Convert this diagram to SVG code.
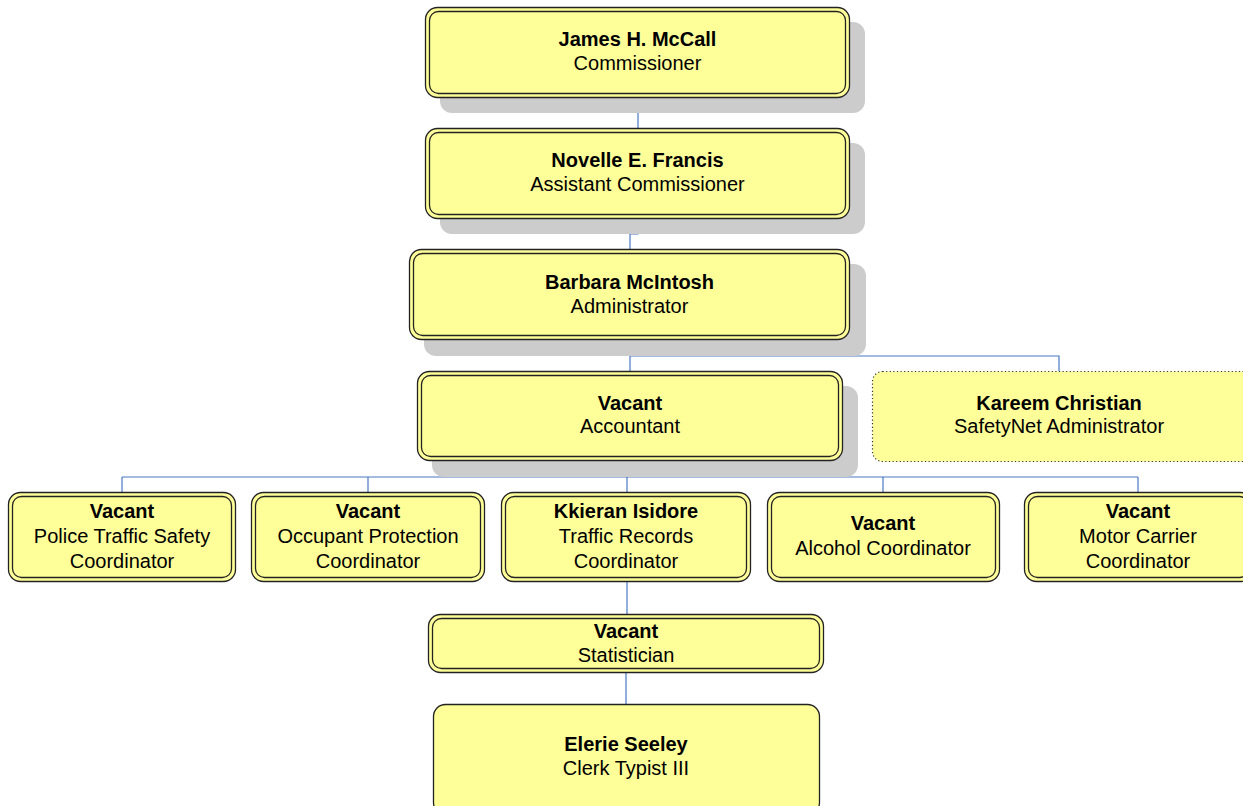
<svg xmlns="http://www.w3.org/2000/svg" width="1243" height="806" viewBox="0 0 1243 806">
<style>
.sh{fill:#cccccc}
.o{fill:#ffff99;stroke:#222;stroke-width:1.3}
.i{fill:none;stroke:#222;stroke-width:1.3}
.d{fill:#ffff99;stroke:#333;stroke-width:1.2;stroke-dasharray:1.2 2.4}
.s{fill:#ffff99;stroke:#222;stroke-width:1.3}
text{font-family:"Liberation Sans",Arial,sans-serif;font-size:20px;fill:#000;text-anchor:middle}
.b{font-weight:bold}
.c{fill:none;stroke:#4a78c4;stroke-width:1.2}
</style>
<g id="connectors">
<path class="c" d="M638 98V128M638 219V234H630V249M630 340V371M630 356H1059V371M630 461V477M122 477H1138M122 477V492M368 477V492M627 477V492M883 477V492M1138 477V492M627 582V614M626 673V704"/>
</g>
<g id="n1">
<rect class="sh" x="440" y="22" width="425" height="91" rx="12"/>
<rect class="o" x="425.5" y="7.5" width="424" height="90" rx="12"/>
<rect class="i" x="429.5" y="11.5" width="416" height="82" rx="9"/>
<text class="b" x="637.5" y="46">James H. McCall</text>
<text x="637.5" y="70">Commissioner</text>
</g>
<g id="n2">
<rect class="sh" x="440" y="143" width="425" height="91" rx="12"/>
<rect class="o" x="425.5" y="128.5" width="424" height="90" rx="12"/>
<rect class="i" x="429.5" y="132.5" width="416" height="82" rx="9"/>
<text class="b" x="637.5" y="167">Novelle E. Francis</text>
<text x="637.5" y="191">Assistant Commissioner</text>
</g>
<g id="n3">
<rect class="sh" x="424" y="264" width="442" height="92" rx="12"/>
<rect class="o" x="409.5" y="249.5" width="440" height="90" rx="12"/>
<rect class="i" x="413.5" y="253.5" width="432" height="82" rx="9"/>
<text class="b" x="629.5" y="289">Barbara McIntosh</text>
<text x="629.5" y="313">Administrator</text>
</g>
<g id="n4">
<rect class="sh" x="432" y="386" width="426" height="91" rx="12"/>
<rect class="o" x="417.5" y="371.5" width="425" height="89" rx="12"/>
<rect class="i" x="421.5" y="375.5" width="417" height="81" rx="9"/>
<text class="b" x="630" y="410">Vacant</text>
<text x="630" y="433">Accountant</text>
</g>
<g id="n5">
<rect class="d" x="872.5" y="371.5" width="380" height="90" rx="10"/>
<text class="b" x="1059" y="410">Kareem Christian</text>
<text x="1059" y="433">SafetyNet Administrator</text>
</g>
<g id="n6">
<rect class="o" x="8.5" y="492.5" width="227" height="89" rx="12"/>
<rect class="i" x="12.5" y="496.5" width="219" height="81" rx="9"/>
<text class="b" x="122" y="518">Vacant</text>
<text x="122" y="543">Police Traffic Safety</text>
<text x="122" y="568">Coordinator</text>
</g>
<g id="n7">
<rect class="o" x="251.5" y="492.5" width="233" height="89" rx="12"/>
<rect class="i" x="255.5" y="496.5" width="225" height="81" rx="9"/>
<text class="b" x="368" y="518">Vacant</text>
<text x="368" y="543">Occupant Protection</text>
<text x="368" y="568">Coordinator</text>
</g>
<g id="n8">
<rect class="o" x="501.5" y="492.5" width="249" height="89" rx="12"/>
<rect class="i" x="505.5" y="496.5" width="241" height="81" rx="9"/>
<text class="b" x="626" y="518">Kkieran Isidore</text>
<text x="626" y="543">Traffic Records</text>
<text x="626" y="568">Coordinator</text>
</g>
<g id="n9">
<rect class="o" x="767.5" y="492.5" width="232" height="89" rx="12"/>
<rect class="i" x="771.5" y="496.5" width="224" height="81" rx="9"/>
<text class="b" x="883" y="530">Vacant</text>
<text x="883" y="555">Alcohol Coordinator</text>
</g>
<g id="n10">
<rect class="o" x="1024.5" y="492.5" width="228" height="89" rx="12"/>
<rect class="i" x="1028.5" y="496.5" width="220" height="81" rx="9"/>
<text class="b" x="1138" y="518">Vacant</text>
<text x="1138" y="543">Motor Carrier</text>
<text x="1138" y="568">Coordinator</text>
</g>
<g id="n11">
<rect class="o" x="428.5" y="614.5" width="395" height="58" rx="12"/>
<rect class="i" x="432.5" y="618.5" width="387" height="50" rx="9"/>
<text class="b" x="626" y="638">Vacant</text>
<text x="626" y="662">Statistician</text>
</g>
<g id="n12">
<rect class="s" x="433.5" y="704.5" width="386" height="110" rx="12"/>
<text class="b" x="626" y="751">Elerie Seeley</text>
<text x="626" y="775">Clerk Typist III</text>
</g>
</svg>
